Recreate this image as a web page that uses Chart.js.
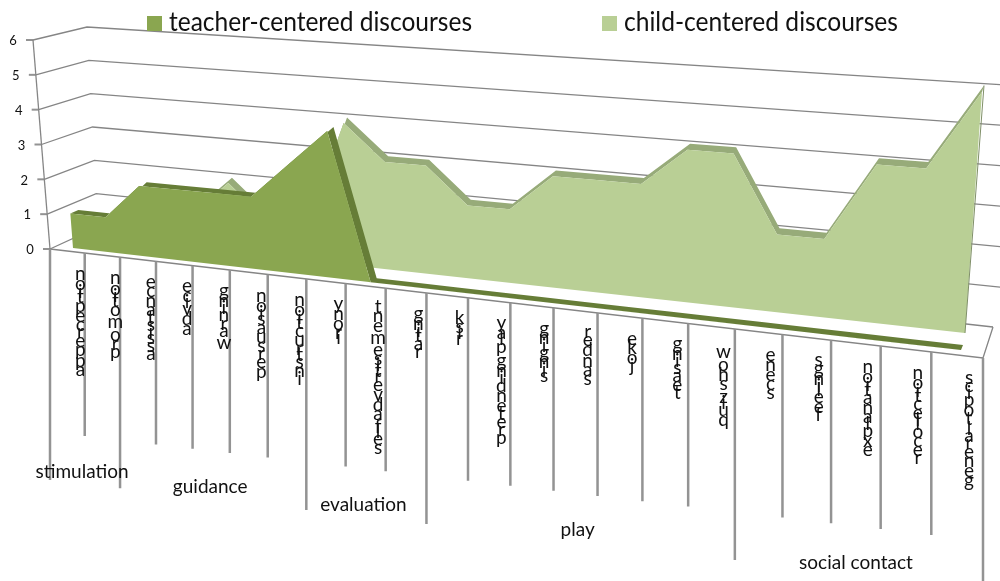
<!DOCTYPE html>
<html>
<head>
<meta charset="utf-8">
<title>Discourses</title>
<script src="https://cdn.jsdelivr.net/npm/chart.js@4/dist/chart.umd.min.js"></script>
<style>
  html, body { margin: 0; padding: 0; background: #fff; }
  canvas { display: block; }
</style>
</head>
<body>
<canvas id="chart" width="1000" height="581"></canvas>
<script>
// chart values
const categories = ['apperception', 'promotion', 'assistance', 'advice', 'warning', 'persuasion', 'instruction',
    'irony', 'self advertisement', 'rating', 'risk', 'pretending play', 'singing', 'sander', 'joke', 'teasing',
    'quiz show', 'scene', 'feelings', 'explanation', 'recollection', 'general topics'];
const teacherValues = [1, 1, 2, 2, 2, 2, 3, 4, 0, 0, 0, 0, 0, 0, 0, 0, 0, 0, 0, 0, 0, 0];
const childValues = [0, 0, 0, 1, 2, 1, 1, 4, 3, 3, 2, 2, 3, 3, 3, 4, 4, 2, 2, 4, 4, 6];
const valueTicks = [0, 1, 2, 3, 4, 5, 6];
const groupNames = ['stimulation', 'guidance', 'evaluation', 'play', 'social contact'];
const groupSizes = [2, 5, 3, 7, 5];
const seriesNames = ['teacher-centered discourses', 'child-centered discourses'];

// colours
const teacherColor = '#8aa650', teacherSide = '#667d37';
const childColor = '#b9cf95', childSide = '#97ab79';
const gridColor = '#858585', tickColor = '#939393';
const FONT = 'Lato, Carlito, "Open Sans", sans-serif';

// the perspective of the 3D box, in page pixels
const maxValue = 6, catCount = categories.length;
const lerp = (a, b, t) => a + (b - a) * t;
const persp = (u, r) => u / (u + (r || 1.232) * (1 - u));
const frontAxis = { x0: 50, y0: 249, x1: 983, y1: 358 };
const wallFront = { x0: 50, y0: 249, x1: 33, y1: 40 };
const wallBack = { x0: 98, y0: 227, x1: 87, y1: 27 };
const wallRight = { x0: 1003, y0: 328, x1: 1005, y1: 85 };
const floorCorner = { x: 993, y: 327 };
const teacherPlane = { r: 1.232, bl: [73, 248], br: [961, 350], tl: [57, 41], tr: [980, 98], dx: [8, 2], dy: [-3.5, -5] };
const childPlane = { r: 1.19, bl: [85, 236], br: [965, 333], tl: [71, 35], tr: [982, 92], dx: [4, 2], dy: [-5, -6.5] };

const onEdge = (e, t) => ({ x: lerp(e.x0, e.x1, t), y: lerp(e.y0, e.y1, t) });
const tickAt = j => onEdge(frontAxis, persp(j / catCount));

function planePoint(plane, i, v, back) {
    const first = persp(0.5 / catCount, plane.r), last = persp((catCount - 0.5) / catCount, plane.r);
    const t = (persp((i + 0.5) / catCount, plane.r) - first) / (last - first);
    const k = v / maxValue;
    const bx = lerp(plane.bl[0], plane.br[0], t), by = lerp(plane.bl[1], plane.br[1], t);
    const tx = lerp(plane.tl[0], plane.tr[0], t), ty = lerp(plane.tl[1], plane.tr[1], t);
    return {
        x: lerp(bx, tx, k) + (back ? lerp(plane.dx[0], plane.dx[1], t) : 0),
        y: lerp(by, ty, k) + (back ? lerp(plane.dy[0], plane.dy[1], t) : 0)
    };
}

// painted in this order, the array is reversed for Chart.js at the end
const layers = [];
function addLine(points, color, width) {
    layers.push({ data: points, showLine: true, fill: false, borderColor: color, borderWidth: width, pointRadius: 0 });
}
function addShape(points, color) {
    layers.push({ data: points, showLine: true, fill: 'shape', backgroundColor: color,
        borderColor: 'rgba(0,0,0,0)', borderWidth: 0, pointRadius: 0 });
}
function addSeries(values, plane, faceColor, sideColor) {
    const front = values.map((v, i) => planePoint(plane, i, v, false));
    const back = values.map((v, i) => planePoint(plane, i, v, true));
    const last = values.length - 1;
    addShape(front.concat(back.slice().reverse()), sideColor);
    addShape(front.concat([planePoint(plane, last, 0, false), planePoint(plane, 0, 0, false)]), faceColor);
}

// walls and floor
valueTicks.forEach(v => {
    const k = v / maxValue;
    const a = onEdge(wallFront, k), b = onEdge(wallBack, k);
    addLine(v === 0 ? [a, b, floorCorner] : [a, b, onEdge(wallRight, k)], gridColor, 1.3);
    addLine([{ x: a.x - 7, y: a.y }, a], tickColor, 2);
});
addLine([onEdge(wallFront, 0), onEdge(wallFront, 1)], gridColor, 1.3);
addLine([onEdge(frontAxis, 0), onEdge(frontAxis, 1), floorCorner], gridColor, 1.3);

// category ticks, the ones between groups hang lower
const groupEdges = [0];
groupSizes.forEach(n => groupEdges.push(groupEdges[groupEdges.length - 1] + n));
for (let j = 0; j <= catCount; j++) {
    const p = tickAt(j);
    const drop = groupEdges.includes(j) ? 231 : 183;
    addLine([p, { x: p.x, y: p.y + drop }], tickColor, 2.5);
}

// series, back one first
addSeries(childValues, childPlane, childColor, childSide);
addLine([planePoint(childPlane, catCount - 1, 6, true), planePoint(childPlane, catCount - 1, 0, false)], '#7f8f68', 1);
addSeries(teacherValues, teacherPlane, teacherColor, teacherSide);

const labelsPlugin = {
    id: 'boxLabels',
    afterDraw(chart) {
        const ctx = chart.ctx, sx = chart.scales.x, sy = chart.scales.y;
        ctx.save();
        ctx.fillStyle = '#111';

        // value axis
        ctx.font = '13px ' + FONT;
        ctx.textAlign = 'center';
        ctx.textBaseline = 'middle';
        valueTicks.forEach(v => {
            const p = onEdge(wallFront, v / maxValue);
            ctx.fillText(String(v), sx.getPixelForValue(p.x - 20), sy.getPixelForValue(p.y + 1));
        });

        // category labels come out mirrored along the axis, one upright letter under the other
        ctx.font = '19px ' + FONT;
        ctx.textBaseline = 'alphabetic';
        categories.forEach((name, i) => {
            const p = tickAt(i + 1);
            const t = persp((i + 1) / catCount);
            const x = p.x - (4 + 10 * t);
            let y = p.y + 17;
            Array.from(name).reverse().forEach(ch => {
                const adv = ctx.measureText(ch).width * 0.96;
                ctx.fillText(ch, sx.getPixelForValue(x), sy.getPixelForValue(y + adv / 2 + 5));
                y += adv;
            });
        });

        // group labels
        ctx.font = '19px ' + FONT;
        ctx.textBaseline = 'middle';
        groupNames.forEach((name, g) => {
            const a = tickAt(groupEdges[g]), b = tickAt(groupEdges[g + 1]);
            const cx = (a.x + b.x) / 2, floorY = (a.y + b.y) / 2;
            ctx.fillText(name, sx.getPixelForValue(cx - 3), sy.getPixelForValue(floorY + 219));
        });

        // legend
        ctx.font = '26px ' + FONT;
        ctx.textAlign = 'left';
        ctx.textBaseline = 'alphabetic';
        const legendX = [147, 602], legendW = [303, 274], swatches = [teacherColor, childColor];
        seriesNames.forEach((name, s) => {
            ctx.fillStyle = swatches[s];
            ctx.fillRect(legendX[s], 16, 15, 15);
            ctx.fillStyle = '#111';
            ctx.fillText(name, legendX[s] + 22, 31, legendW[s]);
        });
        ctx.restore();
    }
};

new Chart(document.getElementById('chart').getContext('2d'), {
    type: 'scatter',
    data: { datasets: layers.slice().reverse() },
    options: {
        responsive: false,
        animation: false,
        layout: { padding: 0 },
        plugins: { legend: { display: false }, tooltip: { enabled: false } },
        scales: {
            x: { type: 'linear', display: false, min: 0, max: 1000 },
            y: { type: 'linear', display: false, min: 0, max: 581, reverse: true }
        }
    },
    plugins: [labelsPlugin]
});
</script>
</body>
</html>
